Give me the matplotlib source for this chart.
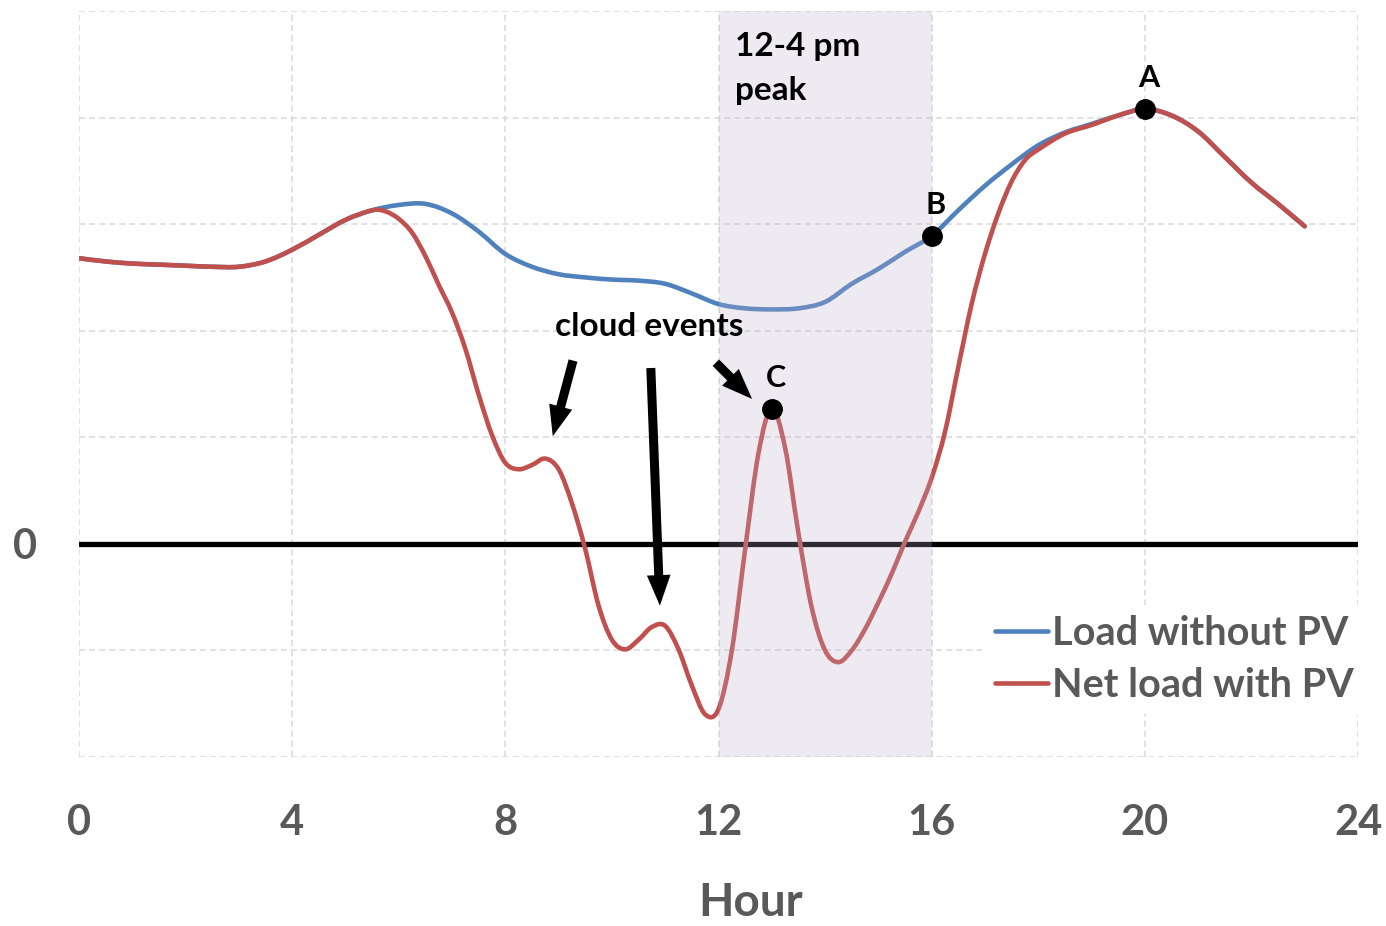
import numpy as np
import matplotlib
matplotlib.use("Agg")
import matplotlib.pyplot as plt
from matplotlib.path import Path
from matplotlib.patches import PathPatch
from matplotlib.lines import Line2D

plt.rcParams["font.family"] = ["Lato", "DejaVu Sans"]
plt.rcParams["font.weight"] = "bold"

# -------- data (hour, load in grid units) -----------------------------
load_hours = [0, 0.5, 1, 1.5, 2, 2.5, 3, 3.5, 4, 4.5, 5, 5.5, 6, 6.5, 7, 7.5,
              8, 8.5, 9, 9.5, 10, 10.5, 11, 11.5, 12, 12.5, 13, 13.5, 14, 14.5,
              15, 15.5, 16, 16.5, 17, 17.5, 18, 18.5, 19, 19.5, 20, 20.5, 21,
              21.5, 22, 22.5, 23]
load_no_pv = [2.68, 2.65, 2.63, 2.62, 2.61, 2.60, 2.60, 2.65, 2.76, 2.90, 3.04,
              3.13, 3.18, 3.19, 3.10, 2.93, 2.72, 2.60, 2.53, 2.50, 2.48, 2.47,
              2.44, 2.35, 2.25, 2.21, 2.20, 2.21, 2.27, 2.44, 2.58, 2.74, 2.89,
              3.13, 3.36, 3.56, 3.74, 3.86, 3.94, 4.02, 4.08, 4.02, 3.87, 3.63,
              3.39, 3.19, 2.98]

net_hours = [0, 0.5, 1, 1.5, 2, 2.5, 3, 3.5, 4, 4.5, 5, 5.5, 5.75, 6, 6.25,
             6.5, 6.75, 7, 7.25, 7.5, 7.75, 8, 8.25, 8.5, 8.75, 9, 9.25, 9.5,
             9.75, 10, 10.25, 10.5, 10.75, 11, 11.25, 11.5, 11.75, 12, 12.25,
             12.5, 12.75, 13, 13.25, 13.5, 13.75, 14, 14.25, 14.5,
             14.75, 15, 15.25, 15.5, 15.75, 16, 16.25, 16.5, 16.75, 17, 17.25,
             17.5, 17.75, 18, 18.5, 19, 19.5, 20, 20.5, 21, 21.5, 22, 22.5, 23]
net_with_pv = [2.68, 2.65, 2.63, 2.62, 2.61, 2.60, 2.60, 2.65, 2.76, 2.90, 3.04,
               3.13, 3.12, 3.05, 2.92, 2.70, 2.43, 2.17, 1.83, 1.40, 1.02, 0.76,
               0.70, 0.74, 0.80, 0.70, 0.38, -0.05, -0.58, -0.90, -0.99, -0.90,
               -0.78, -0.77, -0.99, -1.33, -1.60, -1.55, -1.00, -0.05, 0.85,
               1.27, 0.90, 0.10, -0.60, -1.00, -1.11, -1.00, -0.80,
               -0.55, -0.28, 0.02, 0.30, 0.62, 1.05, 1.66, 2.25, 2.72, 3.10,
               3.40, 3.60, 3.70, 3.85, 3.93, 4.02, 4.08, 4.02, 3.87, 3.63, 3.39,
               3.19, 2.98]

peak_start, peak_end = 12, 16
point_labels = ["A", "B", "C"]
point_hours = [20, 16, 13]
point_vals = [4.08, 2.89, 1.27]

x_ticks = [0, 4, 8, 12, 16, 20, 24]
y_ticks = [-2, -1, 0, 1, 2, 3, 4, 5]
y_ticklabels = ["", "", "0", "", "", "", "", ""]

BLUE = "#4F81BD"
RED = "#C0504D"
GREY_TXT = "#595959"


def smooth_path(xs, ys):
    # Excel-style smoothed line: Bezier segments through every data point
    p = np.column_stack([xs, ys]).astype(float)
    ext = np.vstack([p[0], p, p[-1]])
    verts, codes = [p[0]], [Path.MOVETO]
    for i in range(len(p) - 1):
        c1 = ext[i + 1] + (ext[i + 2] - ext[i]) / 6.0
        c2 = ext[i + 2] - (ext[i + 3] - ext[i + 1]) / 6.0
        verts += [c1, c2, ext[i + 2]]
        codes += [Path.CURVE4] * 3
    return Path(verts, codes)


# -------- figure ----------
fig = plt.figure(figsize=(13.86, 9.26), dpi=100)
ax = fig.add_axes([79 / 1386, 169 / 926, 1279 / 1386, 746 / 926])

for xs, ys, col in [(load_hours, load_no_pv, BLUE), (net_hours, net_with_pv, RED)]:
    ax.add_patch(PathPatch(smooth_path(xs, ys), fill=False, edgecolor=col,
                           lw=3.3, joinstyle="round", capstyle="round", zorder=3))
ax.axhline(0, color="black", lw=3.8, zorder=2.5)

# shaded 12-4 pm window drawn over the lines (tints them like the original)
ax.axvspan(peak_start, peak_end, color="#BBAFCF", alpha=0.25, lw=0, zorder=4)

# marked points
ax.plot(point_hours, point_vals, "o", color="black", ms=14, zorder=5)
for lab, h, v in zip(point_labels, point_hours, point_vals):
    ax.annotate(lab, (h, v), xytext=(3, 22), textcoords="offset points",
                ha="center", va="center", fontsize=22, fontweight="bold",
                color="black", zorder=6)

ax.text(12.31, 4.80, "12-4 pm\npeak", ha="left", va="top", fontsize=24,
        fontweight="bold", linespacing=1.6, color="black", zorder=6)
ax.text(10.70, 2.04, "cloud events", ha="center", va="center", fontsize=24,
        fontweight="bold", color="black", zorder=6)

arrow_kw = dict(arrowstyle="simple,head_length=22,head_width=17,tail_width=6.5",
                color="black", shrinkA=0, shrinkB=0, mutation_scale=1, lw=0)
for tail, head in [((9.27, 1.72), (8.89, 1.01)),
                   ((10.73, 1.65), (10.90, -0.58)),
                   ((11.95, 1.70), (12.63, 1.36))]:
    ax.annotate("", xy=head, xytext=tail, arrowprops=arrow_kw, zorder=6)

ax.set_xlim(0, 24)
ax.set_ylim(-2, 5)
ax.set_xticks(x_ticks)
ax.set_yticks(y_ticks)
ax.set_yticklabels(y_ticklabels)
ax.tick_params(length=0, labelsize=30, labelcolor=GREY_TXT)
ax.tick_params(axis="x", pad=34)
ax.tick_params(axis="y", pad=30)
fig.text(751 / 1386, 1 - 903 / 926, "Hour", ha="center", va="center",
         fontsize=33, fontweight="bold", color=GREY_TXT)

ax.grid(True, color="#D9D9D9", lw=1.1, linestyle=(0, (4, 2.6)))
ax.set_axisbelow(True)
for s in ax.spines.values():
    s.set_visible(False)

handles = [Line2D([], [], color=BLUE, lw=3.3, solid_capstyle="round"),
           Line2D([], [], color=RED, lw=3.3, solid_capstyle="round")]
leg = ax.legend(handles, ["Load without PV", "Net load with PV"],
                loc="upper left", bbox_to_anchor=(985 / 1386, 1 - 605 / 926),
                bbox_transform=fig.transFigure, fontsize=28.5, frameon=True,
                handlelength=1.35, handletextpad=0.08, labelspacing=0.38,
                borderpad=0.25, borderaxespad=0, fancybox=False)
leg.get_frame().set_facecolor("white")
leg.get_frame().set_edgecolor("none")
leg.get_frame().set_alpha(1)
leg.set_zorder(7)
for t in leg.get_texts():
    t.set_color(GREY_TXT)
    t.set_fontweight("bold")

fig.savefig("out.png", dpi=100)
